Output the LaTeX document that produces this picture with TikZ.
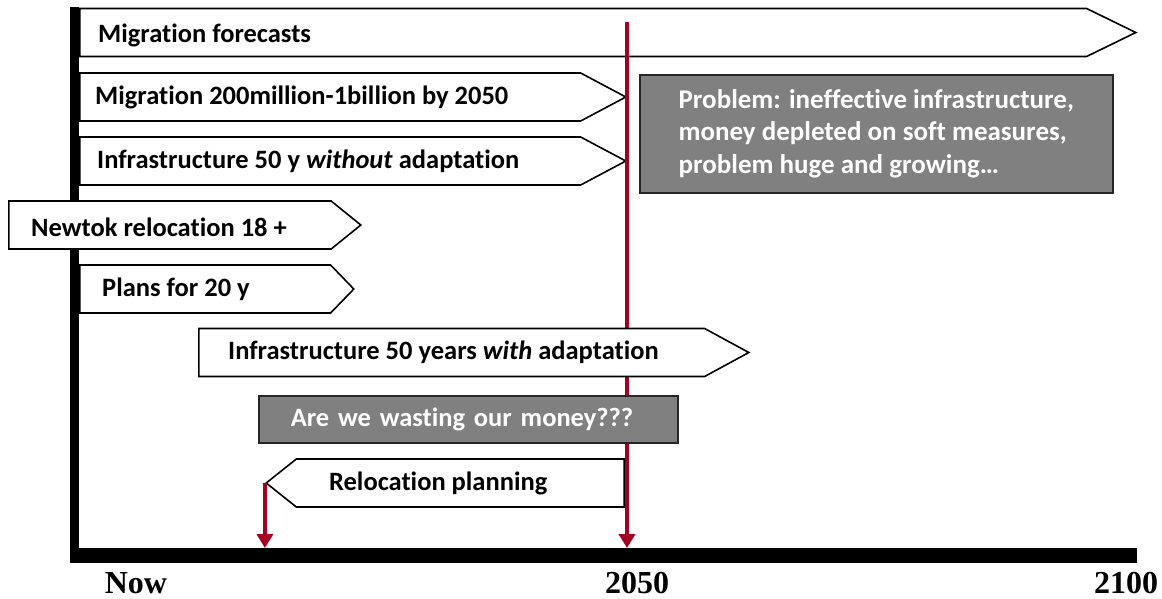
\documentclass[tikz,border=0pt]{standalone}
\usepackage{fontspec}
\setmainfont{Carlito}[Ligatures=NoCommon]
\newfontfamily\yearfont{Liberation Serif}
\usetikzlibrary{arrows.meta,positioning,shapes.symbols}

\definecolor{timered}{RGB}{165,0,33}
\definecolor{notegray}{RGB}{128,128,128}

\begin{document}
\begin{tikzpicture}[x=1pt,y=-1pt,
    every node/.style={font=\fontsize{26.5}{32.5}\selectfont\bfseries},
    bar/.style={signal, signal to=east, draw, line width=1.6pt, fill=white,
                minimum height=48pt, inner sep=0pt, anchor=west},
    barleft/.style={bar, signal to=west, anchor=east},
    caption/.style={inner sep=0pt},
    note/.style={draw=black!85, line width=1.6pt, fill=notegray, text=white,
                 anchor=north west},
    year/.style={font=\yearfont\fontsize{32}{36}\selectfont\bfseries,
                 inner sep=0pt, anchor=base},
    marker/.style={timered, line width=4.5pt, -{Triangle[width=16pt,length=14pt]}}]
  \useasboundingbox (0,0) rectangle (1162,598);

  % time axes
  \coordinate (ytop)   at (74.5,7);
  \coordinate (origin) at (74.5,555.5);
  \coordinate (xend)   at (1137,555.5);
  \coordinate (axtop)  at (0,548);
  \draw[line width=9pt] (ytop) -- (origin);
  \draw[line width=15pt] ([xshift=-4.5pt]origin) -- (xend);

  \node[year] (now)  at (136,593)  {Now};
  \node[year] (y2050) at (637,593) {2050};
  \node[year] (y2100) at (1126,593) {2100};

  % bars up to 2050
  \node[bar, minimum width=1056pt, signal pointer angle=52] (forecast) at (79,32.5) {};
  \node[caption, right=19pt of forecast.west, yshift=-3pt] {Migration forecasts};

  \node[bar, minimum width=546pt, signal pointer angle=56] (migration) at (79,97) {};
  \node[caption, right=16pt of migration.west] {Migration 200million-1billion by 2050};

  \node[bar, minimum width=546pt, signal pointer angle=56] (without) at (79,161) {};
  \node[caption, right=18pt of without.west] {Infrastructure 50 y \textit{without} adaptation};

  \node[bar, minimum width=352pt, signal pointer angle=78] (newtok) at (8,225) {};
  \node[caption, right=23pt of newtok.west, yshift=-2pt] {Newtok relocation 18 +};

  \node[bar, minimum width=274pt, signal pointer angle=92] (plans) at (79,289) {};
  \node[caption, right=23pt of plans.west] {Plans for 20 y};

  % 2050 marker
  \coordinate (mark) at (627,22);
  \draw[marker] (mark) -- (mark |- axtop);

  \node[bar, minimum width=550pt, signal pointer angle=57] (with) at (198,352.5) {};
  \node[caption, right=30pt of with.west] {Infrastructure 50 years \textit{with} adaptation};

  \node[note, minimum height=47pt, inner xsep=32pt, text width=355pt, align=left]
    (waste) at (258,395) {Are we wasting our money???};

  \node[barleft, minimum width=358pt, signal pointer angle=77] (reloc) at (625,483) {};
  \node[caption, right=64pt of reloc.west] {Relocation planning};
  \draw[marker] (reloc.west) -- (reloc.west |- axtop);

  \node[note, minimum width=473pt, minimum height=118pt, align=left,
        font=\fontsize{27}{32.5}\selectfont\bfseries]
    (problem) at (639,74)
    {Problem: ineffective infrastructure,\\money depleted on soft measures,\\problem huge and growing…};
\end{tikzpicture}
\end{document}
